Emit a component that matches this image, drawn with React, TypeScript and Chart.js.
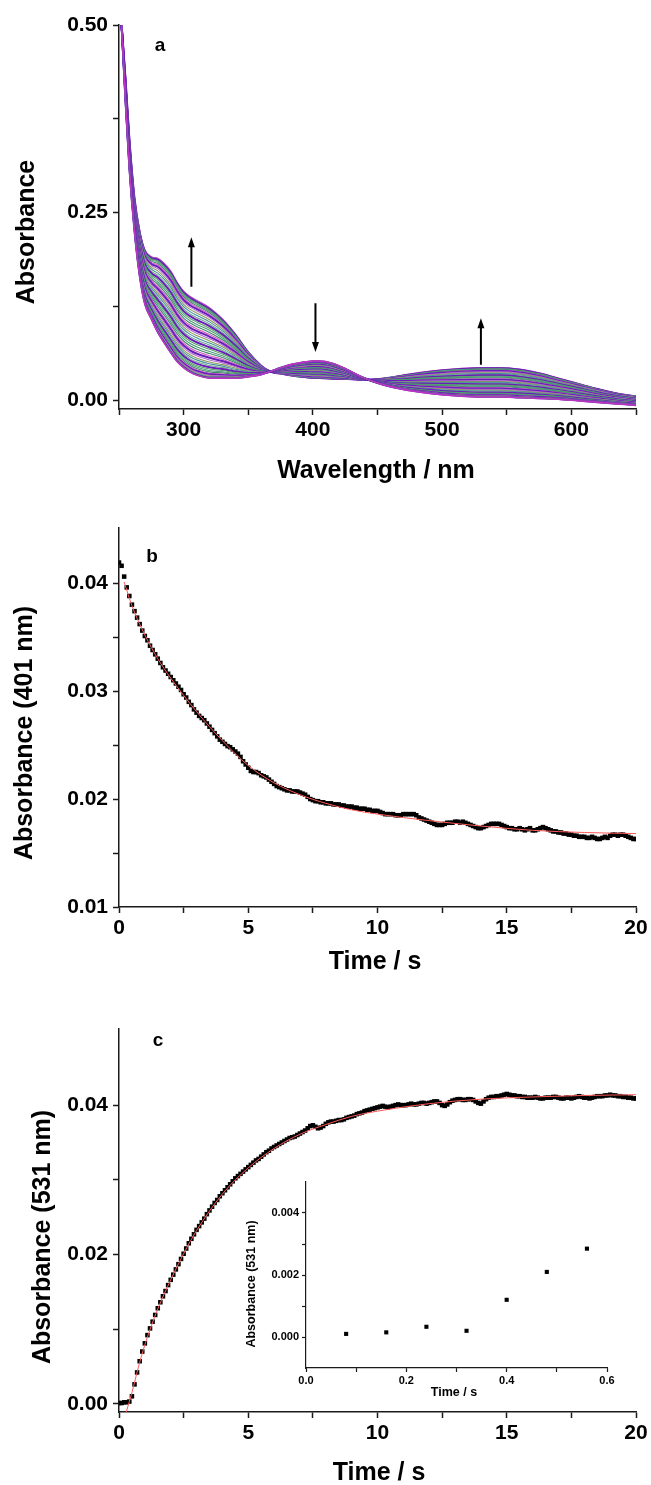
import React, { useEffect, useRef } from 'react';
import { Chart, registerables } from 'chart.js';

Chart.register(...registerables);

const FONT = '"Liberation Sans", Arial, Helvetica, sans-serif';
const AXIS_COLOR = '#1a1a1a';

// ---------------- Panel a : spectra ----------------
const wavelengths = [252, 255, 258, 262, 266, 270, 275, 280, 285, 290, 295, 300, 305, 310, 320, 330, 340, 350, 360, 367, 375, 385, 395, 400, 405, 415, 425, 435, 443, 455, 470, 485, 500, 515, 530, 545, 560, 575, 590, 605, 620, 635, 650];
const spectrumFirst = [0.5, 0.4, 0.31, 0.225, 0.165, 0.128, 0.108, 0.09, 0.076, 0.063, 0.051, 0.043, 0.037, 0.033, 0.029, 0.029, 0.029, 0.031, 0.034, 0.038, 0.043, 0.048, 0.051, 0.052, 0.052, 0.049, 0.042, 0.033, 0.027, 0.02, 0.014, 0.01, 0.007, 0.005, 0.004, 0.004, 0.003, 0.002, 0.001, -0.001, -0.003, -0.005, -0.007];
const spectrumLast = [0.5, 0.43, 0.35, 0.27, 0.225, 0.2, 0.191, 0.189, 0.182, 0.172, 0.157, 0.145, 0.138, 0.133, 0.123, 0.108, 0.088, 0.064, 0.046, 0.038, 0.035, 0.032, 0.03, 0.029, 0.029, 0.028, 0.028, 0.027, 0.027, 0.029, 0.033, 0.037, 0.04, 0.042, 0.043, 0.043, 0.041, 0.036, 0.029, 0.022, 0.015, 0.009, 0.005];
const scanProgress = [0, 0.004, 0.008, 0.013, 0.02, 0.03, 0.042, 0.056, 0.072, 0.09, 0.11, 0.13, 0.155, 0.18, 0.205, 0.23, 0.26, 0.29, 0.32, 0.35, 0.38, 0.41, 0.44, 0.47, 0.5, 0.53, 0.56, 0.59, 0.62, 0.65, 0.68, 0.71, 0.74, 0.77, 0.8, 0.83, 0.86, 0.885, 0.91, 0.93, 0.95, 0.965, 0.98, 0.99, 1];
const scanColors = ['#4e9a7a', '#5a9f6a', '#c04a7a', '#6fa890', '#4a8fa0', '#8a9a5a', '#b06ad0', '#60a080', '#d060c0', '#3f8a6a'];
const arrowWavelengths = [306, 402, 530];
const arrowTails = [0.151, 0.129, 0.047];
const arrowTips = [0.217, 0.064, 0.109];
const aXTicks = [250, 300, 350, 400, 450, 500, 550, 600, 650];
const aXLabels = [300, 400, 500, 600];
const aYTicks = [0, 0.125, 0.25, 0.375, 0.5];
const aYLabels = [0, 0.25, 0.5];

// ---------------- Panel b : 401 nm kinetics ----------------
const sampleStep = 0.1;
const absorbance401 = [
  0.0419, 0.0416, 0.0406, 0.0396, 0.0388, 0.0380, 0.0374, 0.0368, 0.0362, 0.0356,
  0.0351, 0.0347, 0.0342, 0.0338, 0.0334, 0.0330, 0.0326, 0.0322, 0.0319, 0.0316,
  0.0313, 0.0310, 0.0307, 0.0304, 0.0301, 0.0297, 0.0294, 0.0290, 0.0287, 0.0283,
  0.0280, 0.0277, 0.0275, 0.0273, 0.0270, 0.0267, 0.0264, 0.0261, 0.0258, 0.0255,
  0.0253, 0.0251, 0.0249, 0.0248, 0.0246, 0.0244, 0.0242, 0.0239, 0.0235, 0.0232,
  0.0229, 0.0226, 0.0225, 0.0225, 0.0224, 0.0222, 0.0221, 0.0220, 0.0218, 0.0216,
  0.0214, 0.0212, 0.0211, 0.0210, 0.0209, 0.0208, 0.0208, 0.0207, 0.0207, 0.0207,
  0.0206, 0.0205, 0.0204, 0.0202, 0.0200, 0.0199, 0.0198, 0.0198, 0.0197, 0.0197,
  0.0196, 0.0196, 0.0196, 0.0195, 0.0195, 0.0195, 0.0194, 0.0194, 0.0193, 0.0193,
  0.0193, 0.0192, 0.0192, 0.0191, 0.0191, 0.0191, 0.0190, 0.0190, 0.0189, 0.0189,
  0.0189, 0.0188, 0.0187, 0.0186, 0.0186, 0.0186, 0.0186, 0.0185, 0.0185, 0.0185,
  0.0186, 0.0186, 0.0186, 0.0186, 0.0186, 0.0185, 0.0183, 0.0182, 0.0181, 0.0180,
  0.0179, 0.0178, 0.0177, 0.0176, 0.0176, 0.0176, 0.0177, 0.0178, 0.0178, 0.0178,
  0.0179, 0.0179, 0.0178, 0.0179, 0.0178, 0.0177, 0.0176, 0.0175, 0.0174, 0.0173,
  0.0173, 0.0174, 0.0175, 0.0176, 0.0177, 0.0177, 0.0177, 0.0177, 0.0176, 0.0175,
  0.0174, 0.0173, 0.0173, 0.0172, 0.0172, 0.0173, 0.0172, 0.0171, 0.0172, 0.0173,
  0.0171, 0.0171, 0.0172, 0.0173, 0.0174, 0.0173, 0.0172, 0.0171, 0.0170, 0.0170,
  0.0169, 0.0169, 0.0168, 0.0168, 0.0167, 0.0167, 0.0166, 0.0166, 0.0165, 0.0165,
  0.0165, 0.0164, 0.0164, 0.0165, 0.0164, 0.0163, 0.0163, 0.0164, 0.0165, 0.0164,
  0.0166, 0.0167, 0.0167, 0.0166, 0.0167, 0.0167, 0.0166, 0.0165, 0.0164, 0.0163,
  0.0163,
];
const fit401Time = [0.2, 0.5, 1, 1.5, 2, 3, 4, 5, 6, 7, 8, 9, 10, 12, 14, 16, 18, 20];
const fit401 = [0.0401, 0.0379, 0.0352, 0.033, 0.0312, 0.0281, 0.0254, 0.0231, 0.0215, 0.0204, 0.0196, 0.019, 0.0186, 0.018, 0.0175, 0.0171, 0.0169, 0.0168];
const timeTicks = [0, 2.5, 5, 7.5, 10, 12.5, 15, 17.5, 20];
const timeLabels = [0, 5, 10, 15, 20];
const bYTicks = [0.01, 0.015, 0.02, 0.025, 0.03, 0.035, 0.04];
const bYLabels = [0.01, 0.02, 0.03, 0.04];

// ---------------- Panel c : 531 nm kinetics ----------------
const absorbance531 = [
  0.0001, 0.0001, 0.0002, 0.0002, 0.0003, 0.0010, 0.0026, 0.0042, 0.0057, 0.0070,
  0.0081, 0.0092, 0.0101, 0.0110, 0.0119, 0.0128, 0.0136, 0.0144, 0.0151, 0.0159,
  0.0166, 0.0173, 0.0180, 0.0187, 0.0194, 0.0201, 0.0208, 0.0215, 0.0221, 0.0227,
  0.0233, 0.0238, 0.0243, 0.0248, 0.0254, 0.0259, 0.0264, 0.0269, 0.0273, 0.0278,
  0.0282, 0.0286, 0.0290, 0.0294, 0.0298, 0.0302, 0.0305, 0.0308, 0.0311, 0.0314,
  0.0317, 0.0320, 0.0323, 0.0326, 0.0328, 0.0331, 0.0334, 0.0337, 0.0339, 0.0342,
  0.0344, 0.0346, 0.0348, 0.0350, 0.0352, 0.0354, 0.0356, 0.0357, 0.0358, 0.0360,
  0.0362, 0.0364, 0.0366, 0.0369, 0.0372, 0.0373, 0.0371, 0.0369, 0.0370, 0.0372,
  0.0375, 0.0377, 0.0378, 0.0378, 0.0379, 0.0380, 0.0380, 0.0381, 0.0383, 0.0384,
  0.0385, 0.0386, 0.0388, 0.0389, 0.0390, 0.0392, 0.0393, 0.0394, 0.0395, 0.0396,
  0.0397, 0.0398, 0.0399, 0.0398, 0.0397, 0.0398, 0.0399, 0.0400, 0.0401, 0.0400,
  0.0400, 0.0400, 0.0401, 0.0402, 0.0401, 0.0401, 0.0402, 0.0403, 0.0403, 0.0402,
  0.0403, 0.0404, 0.0405, 0.0405, 0.0403, 0.0400, 0.0399, 0.0401, 0.0404, 0.0406,
  0.0407, 0.0408, 0.0408, 0.0407, 0.0407, 0.0408, 0.0408, 0.0407, 0.0405, 0.0403,
  0.0402, 0.0405, 0.0408, 0.0410, 0.0411, 0.0411, 0.0412, 0.0412, 0.0413, 0.0414,
  0.0415, 0.0414, 0.0413, 0.0413, 0.0412, 0.0412, 0.0411, 0.0411, 0.0410, 0.0410,
  0.0410, 0.0411, 0.0410, 0.0409, 0.0409, 0.0410, 0.0410, 0.0410, 0.0411, 0.0411,
  0.0410, 0.0409, 0.0409, 0.0410, 0.0410, 0.0409, 0.0410, 0.0411, 0.0412, 0.0411,
  0.0410, 0.0410, 0.0409, 0.0410, 0.0411, 0.0412, 0.0412, 0.0412, 0.0413, 0.0413,
  0.0414, 0.0413, 0.0413, 0.0412, 0.0412, 0.0411, 0.0411, 0.0410, 0.0410, 0.0409,
  0.0409,
];
const fit531Time = [0.28, 0.5, 0.75, 1, 1.5, 2, 2.5, 3, 4, 5, 6, 7, 8, 9, 10, 12, 14, 16, 18, 20];
const fit531 = [-0.0011, 0.0015, 0.0049, 0.0079, 0.0127, 0.0166, 0.0201, 0.0232, 0.0281, 0.0316, 0.0342, 0.0361, 0.0374, 0.0385, 0.0392, 0.0402, 0.0408, 0.0411, 0.0413, 0.0414];
const cYTicks = [0, 0.01, 0.02, 0.03, 0.04];
const cYLabels = [0, 0.02, 0.04];

// ---------------- Inset ----------------
const insetTime = [0.08, 0.16, 0.24, 0.32, 0.4, 0.48, 0.56];
const insetAbsorbance = [0.0001, 0.00015, 0.00033, 0.0002, 0.0012, 0.0021, 0.00285];
const insetXTicks = [0, 0.1, 0.2, 0.3, 0.4, 0.5, 0.6];
const insetXLabels = [0, 0.2, 0.4, 0.6];
const insetYTicks = [0, 0.001, 0.002, 0.003, 0.004];
const insetYLabels = [0, 0.002, 0.004];

type TextItem = { text: string; x: number; y: number; size: number; rotate?: boolean };

function textPlugin(items: TextItem[]) {
  return {
    id: 'textOverlay',
    afterDraw(chart: any) {
      const ctx = chart.ctx;
      ctx.save();
      ctx.fillStyle = '#000';
      ctx.textAlign = 'center';
      ctx.textBaseline = 'middle';
      for (const it of items) {
        ctx.font = `bold ${it.size}px ${FONT}`;
        ctx.save();
        ctx.translate(it.x, it.y);
        if (it.rotate) ctx.rotate(-Math.PI / 2);
        ctx.fillText(it.text, 0, 0);
        ctx.restore();
      }
      ctx.restore();
    },
  };
}

const arrowPlugin = {
  id: 'arrows',
  afterDatasetsDraw(chart: any) {
    const { ctx, scales } = chart;
    ctx.save();
    ctx.strokeStyle = '#000';
    ctx.fillStyle = '#000';
    ctx.lineWidth = 2;
    arrowWavelengths.forEach((w, i) => {
      const x = scales.x.getPixelForValue(w);
      const y0 = scales.y.getPixelForValue(arrowTails[i]);
      const y1 = scales.y.getPixelForValue(arrowTips[i]);
      const dir = y1 < y0 ? -1 : 1;
      ctx.beginPath();
      ctx.moveTo(x, y0);
      ctx.lineTo(x, y1 - dir * 8);
      ctx.stroke();
      ctx.beginPath();
      ctx.moveTo(x, y1);
      ctx.lineTo(x - 3.5, y1 - dir * 10);
      ctx.lineTo(x + 3.5, y1 - dir * 10);
      ctx.closePath();
      ctx.fill();
    });
    ctx.restore();
  },
};

function makeAxis(
  isX: boolean, min: number, max: number, tickValues: number[], labelValues: number[],
  decimals: number, fitSize: number, fontSize: number, tickLen: number, pad: number, lineW: number,
) {
  return {
    type: 'linear',
    position: isX ? 'bottom' : 'left',
    min,
    max,
    afterBuildTicks: (scale: any) => {
      scale.ticks = tickValues.map((v) => ({ value: v }));
    },
    afterFit: (scale: any) => {
      if (isX) scale.height = fitSize;
      else scale.width = fitSize;
    },
    grid: { display: true, drawOnChartArea: false, drawTicks: true, tickLength: tickLen, color: AXIS_COLOR, tickWidth: lineW },
    border: { display: true, color: AXIS_COLOR, width: lineW },
    ticks: {
      autoSkip: false,
      maxRotation: 0,
      minRotation: 0,
      padding: pad,
      color: '#000',
      font: { family: FONT, size: fontSize, weight: 'bold' },
      callback: (value: any) => {
        const v = Number(value);
        return labelValues.some((l) => Math.abs(l - v) < 1e-9) ? v.toFixed(decimals) : '';
      },
    },
  };
}

const baseOptions = (padding: any, scales: any) => ({
  responsive: false,
  maintainAspectRatio: false,
  animation: false,
  devicePixelRatio: 1,
  layout: { padding },
  plugins: { legend: { display: false }, tooltip: { enabled: false } },
  scales,
});

function spectraConfig() {
  const last = scanProgress.length - 1;
  const datasets = scanProgress.map((p, i) => {
    const thick = i % 5 === 2 && i !== last;
    const edge = i === 0 || i === last;
    return {
      data: wavelengths.map((w, k) => ({ x: w, y: spectrumFirst[k] + (spectrumLast[k] - spectrumFirst[k]) * p })),
      borderColor: edge ? '#c030c8' : thick ? '#6a1cb8' : scanColors[i % scanColors.length],
      borderWidth: thick ? 2 : edge ? 1.3 : 1.1,
      pointRadius: 0,
      cubicInterpolationMode: 'monotone',
      fill: false,
    };
  });
  return {
    type: 'line',
    data: { datasets },
    options: baseOptions({ top: 25, right: 15, left: 0, bottom: 0 }, {
      x: makeAxis(true, 250, 650, aXTicks, aXLabels, 0, 81, 21, 6, 3, 1.5),
      y: makeAxis(false, -0.012, 0.5, aYTicks, aYLabels, 2, 119, 21, 6, 5, 1.5),
    }),
    plugins: [
      arrowPlugin,
      textPlugin([
        { text: 'Absorbance', x: 27, y: 232, size: 25, rotate: true },
        { text: 'Wavelength / nm', x: 376, y: 471, size: 25 },
        { text: 'a', x: 160, y: 46, size: 19 },
      ]),
    ],
  };
}

function kineticsConfig(
  values: number[], fitT: number[], fitV: number[], yMin: number, yMax: number,
  yTicks: number[], yLabels: number[], padTop: number, xFit: number, texts: TextItem[],
) {
  return {
    type: 'line',
    data: {
      datasets: [
        {
          data: fitT.map((t, i) => ({ x: t, y: fitV[i] })),
          borderColor: '#ff5a5a',
          borderWidth: 1,
          pointRadius: 0,
          cubicInterpolationMode: 'monotone',
          fill: false,
        },
        {
          data: values.map((v, i) => ({ x: i * sampleStep, y: v })),
          showLine: false,
          pointStyle: 'rect',
          pointRadius: 3.2,
          pointBorderWidth: 0,
          pointBackgroundColor: '#000',
          pointBorderColor: '#000',
          borderColor: '#000',
          backgroundColor: '#000',
        },
      ],
    },
    options: baseOptions({ top: padTop, right: 15, left: 0, bottom: 0 }, {
      x: makeAxis(true, 0, 20, timeTicks, timeLabels, 0, xFit, 21, 6, 3, 1.5),
      y: makeAxis(false, yMin, yMax, yTicks, yLabels, 2, 119, 21, 6, 5, 1.5),
    }),
    plugins: [textPlugin(texts)],
  };
}

function insetConfig() {
  return {
    type: 'scatter',
    data: {
      datasets: [
        {
          data: insetTime.map((t, i) => ({ x: t, y: insetAbsorbance[i] })),
          pointStyle: 'rect',
          pointRadius: 2.9,
          pointBorderWidth: 0,
          pointBackgroundColor: '#000',
          backgroundColor: '#000',
          borderColor: '#000',
        },
      ],
    },
    options: baseOptions({ top: 22, right: 33, left: 0, bottom: 0 }, {
      x: makeAxis(true, 0, 0.6, insetXTicks, insetXLabels, 1, 37, 11, 4, 2, 1.2),
      y: makeAxis(false, -0.001, 0.005, insetYTicks, insetYLabels, 3, 86, 11, 4, 3, 1.2),
    }),
    plugins: [
      textPlugin([
        { text: 'Absorbance (531 nm)', x: 32, y: 124, size: 12.5, rotate: true },
        { text: 'Time / s', x: 234, y: 233, size: 12.5 },
      ]),
    ],
  };
}

function ChartCanvas({ make, left, top, width, height }: { make: () => any; left: number; top: number; width: number; height: number }) {
  const ref = useRef<HTMLCanvasElement>(null);
  useEffect(() => {
    if (!ref.current) return;
    const chart = new Chart(ref.current, make());
    return () => chart.destroy();
  }, []);
  return (
    <canvas
      ref={ref}
      width={width}
      height={height}
      style={{ position: 'absolute', left, top, width, height }}
    />
  );
}

export default function App() {
  return (
    <div style={{ position: 'absolute', left: 0, top: 0, width: 651, height: 1485, background: '#fff', overflow: 'hidden' }}>
      <ChartCanvas make={spectraConfig} left={0} top={0} width={651} height={490} />
      <ChartCanvas
        make={() =>
          kineticsConfig(absorbance401, fit401Time, fit401, 0.01, 0.0451, bYTicks, bYLabels, 38, 73, [
            { text: 'Absorbance (401 nm)', x: 25, y: 243, size: 25, rotate: true },
            { text: 'Time / s', x: 375, y: 472, size: 25 },
            { text: 'b', x: 152, y: 67, size: 19 },
          ])
        }
        left={0}
        top={490}
        width={651}
        height={490}
      />
      <ChartCanvas
        make={() =>
          kineticsConfig(absorbance531, fit531Time, fit531, -0.0011, 0.0502, cYTicks, cYLabels, 49, 73, [
            { text: 'Absorbance (531 nm)', x: 43, y: 257, size: 25, rotate: true },
            { text: 'Time / s', x: 379, y: 493, size: 25 },
            { text: 'c', x: 158, y: 61, size: 19 },
          ])
        }
        left={0}
        top={980}
        width={651}
        height={505}
      />
      <ChartCanvas make={insetConfig} left={220} top={1160} width={420} height={245} />
    </div>
  );
}
